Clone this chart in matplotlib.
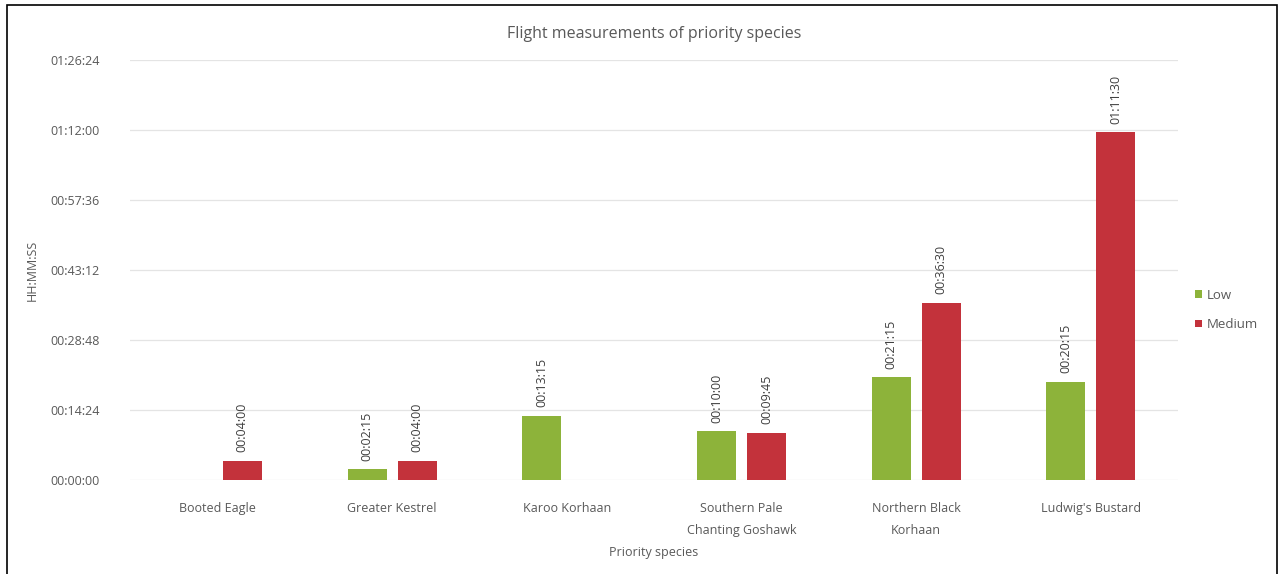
import numpy as np
import matplotlib.pyplot as plt
from matplotlib.patches import Rectangle

plt.rcParams['font.family'] = ['Open Sans', 'DejaVu Sans']

species = ['Booted Eagle', 'Greater Kestrel', 'Karoo Korhaan',
           'Southern Pale\nChanting Goshawk', 'Northern Black\nKorhaan',
           "Ludwig's Bustard"]
# flight time in seconds, NaN where nothing was recorded
low = [np.nan, 135, 795, 600, 1275, 1215]
medium = [240, 240, np.nan, 585, 2190, 4290]
tick_labels = ['00:00:00', '00:14:24', '00:28:48', '00:43:12',
               '00:57:36', '01:12:00', '01:26:24']


def hms(sec):
    sec = int(round(sec))
    return '%02d:%02d:%02d' % (sec // 3600, sec % 3600 // 60, sec % 60)


fig = plt.figure(figsize=(12.85, 5.74), dpi=100)
ax = fig.add_axes([0.1012, 0.1638, 0.8156, 0.7317])

# thin frame round the whole chart
fig.patches.append(Rectangle((0.0055, -0.05), 0.988, 1.041, transform=fig.transFigure,
                             fill=False, edgecolor='black', linewidth=1.2))

x = np.arange(len(species))
w = 0.223
off = 0.143
green = '#8db33a'
red = '#c3323b'
b1 = ax.bar(x - off, low, w, color=green, label='Low', zorder=3)
b2 = ax.bar(x + off, medium, w, color=red, label='Medium', zorder=3)

for bars, vals in ((b1, low), (b2, medium)):
    for bar, v in zip(bars, vals):
        if np.isnan(v):
            continue
        ax.text(bar.get_x() + bar.get_width() / 2, v + 100, hms(v),
                rotation=90, ha='center', va='bottom', fontsize=9,
                color='#404040', zorder=4)

ticks = np.arange(0, 5184 + 1, 864)
ax.set_ylim(0, 5184)
ax.set_yticks(ticks)
ax.set_yticklabels(tick_labels)
ax.set_xlim(-0.5, len(species) - 0.5)
ax.set_xticks(x)
ax.set_xticklabels(species, linespacing=1.9)
ax.tick_params(length=0, labelsize=9, colors='#595959')
ax.tick_params(axis='y', pad=22)
ax.tick_params(axis='x', pad=16)
ax.grid(axis='y', color='#e4e4e4', linewidth=0.9, zorder=0)
for s in ax.spines.values():
    s.set_visible(False)

ax.set_title('Flight measurements of priority species', fontsize=11.5,
             color='#595959', pad=16)
ax.set_ylabel('HH:MM:SS', fontsize=9, color='#595959', labelpad=8)
ax.set_xlabel('Priority species', fontsize=9, color='#595959', labelpad=6)

ax.legend(loc='center left', bbox_to_anchor=(1.005, 0.405), frameon=False,
          fontsize=9.5, labelcolor='#595959', handlelength=0.5,
          handleheight=0.5, handletextpad=0.4, labelspacing=1.25)

fig.savefig('out.png', dpi=100)
